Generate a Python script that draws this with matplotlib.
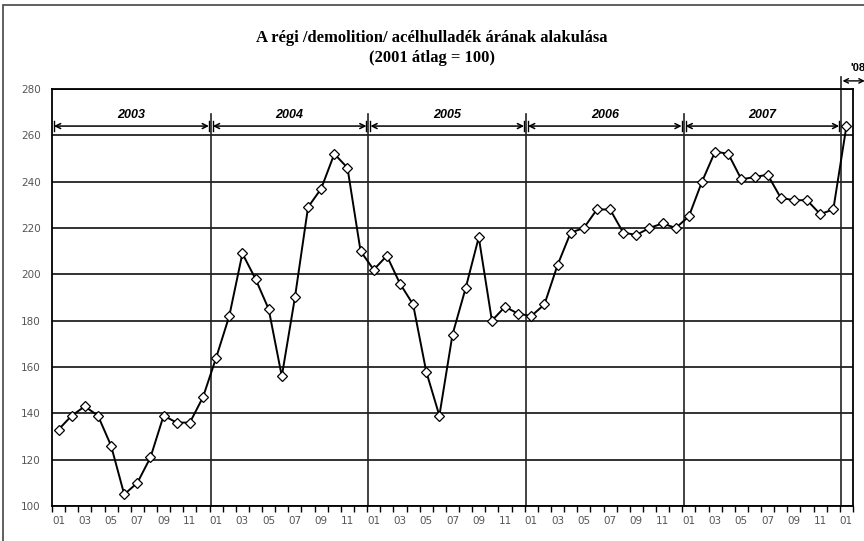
import matplotlib.pyplot as plt

# havi adatok 2003-01 .. 2008-01 (2001 átlag = 100)
ertek_2003 = [133, 139, 143, 139, 126, 105, 110, 121, 139, 136, 136, 147]
ertek_2004 = [164, 182, 209, 198, 185, 156, 190, 229, 237, 252, 246, 210]
ertek_2005 = [202, 208, 196, 187, 158, 139, 174, 194, 216, 180, 186, 183]
ertek_2006 = [182, 187, 204, 218, 220, 228, 228, 218, 217, 220, 222, 220]
ertek_2007 = [225, 240, 253, 252, 241, 242, 243, 233, 232, 232, 226, 228]
ertek_2008 = [264]
evek = ['2003', '2004', '2005', '2006', '2007']
honap_cimkek = ['01', '03', '05', '07', '09', '11']

ertekek = ertek_2003 + ertek_2004 + ertek_2005 + ertek_2006 + ertek_2007 + ertek_2008
x = list(range(len(ertekek)))

fig = plt.figure(figsize=(8.64, 5.41), dpi=100)
ax = fig.add_axes([52 / 864, 1 - 506 / 541, 801 / 864, 417 / 541])

# rácsvonalak
for v in range(100, 281, 20):
    ax.axhline(v, color='#222222', lw=1.3, zorder=1)

ax.plot(x, ertekek, color='black', lw=1.4, marker='D', markersize=5.5,
        markerfacecolor='white', markeredgecolor='black', markeredgewidth=0.9, zorder=3)

ax.set_xlim(-0.5, len(ertekek) - 0.5)
ax.set_ylim(100, 280)

# év-elválasztók és nyilak
hatarok = [-0.5] + [12 * k - 0.4 for k in range(1, 6)]
for k in range(1, 6):
    top = 285 if k == 5 else 269
    ax.plot([hatarok[k], hatarok[k]], [100, top], color='#222222', lw=1.2,
            clip_on=False, zorder=2)
for i, ev in enumerate(evek):
    a, b = hatarok[i] + 0.15, hatarok[i + 1] - 0.15
    ax.annotate('', xy=(b, 264), xytext=(a, 264),
                arrowprops=dict(arrowstyle='<->', color='black', lw=1.1,
                                shrinkA=0, shrinkB=0, mutation_scale=9))
    ax.plot([a, a], [262, 266], color='black', lw=1.0)
    ax.plot([b, b], [262, 266], color='black', lw=1.0)
    ax.text((hatarok[i] + hatarok[i + 1]) / 2, 266, ev, ha='center', va='bottom',
            fontsize=9, fontstyle='italic', fontweight='bold', family='Liberation Sans')

# '08 jelölés a diagram fölött
ax.annotate('', xy=(61.4, 283.5), xytext=(hatarok[5] + 0.1, 283.5),
            arrowprops=dict(arrowstyle='<->', color='black', lw=1.0,
                            shrinkA=0, shrinkB=0, mutation_scale=8),
            annotation_clip=False)
ax.text(60.3, 287, "'08", ha='left', va='bottom', fontsize=8,
        fontweight='bold', family='Liberation Sans')

# tengelyek
ax.set_yticks(range(100, 281, 20))
ax.tick_params(axis='y', length=0, labelsize=7.5, labelcolor='#555555', pad=8)
ax.set_xticks([i for i in x if i % 2 == 0])
ax.set_xticklabels([honap_cimkek[(i % 12) // 2] for i in x if i % 2 == 0])
ax.set_xticks([i - 0.5 for i in range(len(ertekek) + 1)], minor=True)
ax.tick_params(axis='x', which='major', length=0, labelsize=7.5,
               labelcolor='#555555', pad=7)
ax.tick_params(axis='x', which='minor', length=4, direction='out', width=1.0)
for s in ax.spines.values():
    s.set_color('black')
    s.set_linewidth(1.3)

fig.text(0.5, 1 - 38 / 541, 'A régi /demolition/ acélhulladék árának alakulása',
         ha='center', va='center', fontsize=12, fontweight='bold', family='Liberation Serif')
fig.text(0.5, 1 - 58 / 541, '(2001 átlag = 100)', ha='center', va='center',
         fontsize=12, fontweight='bold', family='Liberation Serif')

# külső keret
fig.patches.append(plt.Rectangle((3 / 864, -0.1), 1.0, 1.1 - 5 / 541,
                                 transform=fig.transFigure, fill=False,
                                 edgecolor='#444444', lw=1.2))

fig.savefig('out.png', dpi=100)
